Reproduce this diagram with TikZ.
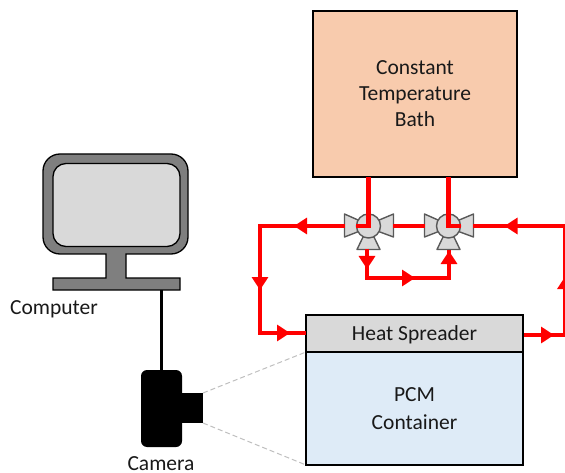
\documentclass[tikz,border=0pt]{standalone}
\usepackage{fontspec}
\setmainfont{Carlito}
\usetikzlibrary{arrows.meta,decorations.markings,calc}
\definecolor{bathfill}{HTML}{F8CBAD}
\definecolor{greyfill}{HTML}{D9D9D9}
\definecolor{pcmfill}{HTML}{DEEBF7}
\definecolor{bodygrey}{HTML}{7F7F7F}
\definecolor{valveline}{HTML}{595959}
\definecolor{viewline}{HTML}{BFBFBF}
\tikzset{
  x=1pt,y=-1pt,
  every node/.style={font=\fontsize{21.5}{26}\selectfont,text=black!90,inner sep=0pt,outer sep=0pt},
  blockbox/.style={draw=black,line width=2.6pt,rectangle,align=center,anchor=center},
  flow/.style={draw=red,line width=4.4pt,line join=miter},
  flowtip/.tip={Triangle[length=13pt 0 0,width=16pt 0 0]},
  flowmarks/.style={postaction={decorate},decoration={markings,#1}},
  valvepart/.style={draw=valveline,fill=greyfill,line width=1.4pt,line join=round},
  valveball/.style={circle,draw=valveline,fill=greyfill,line width=1.4pt,minimum size=24pt},
  viewray/.style={draw=viewline,line width=1pt,dash pattern=on 5pt off 3pt},
  pics/valve/.style={code={
    \path[valvepart] (-24,-12) -- (-24,11) -- (-6,4) -- (-6,-4) -- cycle;
    \path[valvepart] (25,-12) -- (25,11) -- (6,4) -- (6,-4) -- cycle;
    \path[valvepart] (-5,10) -- (5,10) -- (11.5,23.5) -- (-11.5,23.5) -- cycle;
  }}
}
\begin{document}
\begin{tikzpicture}
\useasboundingbox (0,0) rectangle (565,473);
% boxes
\node[blockbox,fill=bathfill,minimum width=204pt,minimum height=166pt] (bath) at (415,94) {Constant\\Temperature\\Bath};
\node[blockbox,fill=pcmfill,minimum width=217pt,minimum height=113pt,font=\fontsize{21.5}{28}\selectfont] (pcm) at (414.5,408.5) {PCM\\Container};
\node[blockbox,fill=greyfill,minimum width=217pt,minimum height=37pt] (spreader) at (414.5,333.5) {};
\node (spreaderlabel) at (414.5,334.5) {Heat Spreader};
% computer
\path[draw=black,fill=bodygrey,line width=1.3pt]
  (106,254) [rounded corners=17pt] -- (43,254) -- (43,154) -- (188,154) -- (188,254) [sharp corners] -- (126,254)
  -- (126,278) -- (180,278) -- (180,290) -- (53,290) -- (53,278) -- (106,278) -- cycle;
\node[draw=black,fill=greyfill,line width=1.3pt,rounded corners=13pt,minimum width=127pt,minimum height=83pt] (screen) at (116.5,205) {};
\coordinate (standfoot) at (161.5,290);
\node[anchor=center] (computerlabel) at (54,309) {Computer};
% camera
\node[fill=black,rounded corners=6pt,minimum width=41pt,minimum height=77pt] (camera) at (161.5,408.5) {};
\node[fill=black,minimum width=21pt,minimum height=30pt] (lens) at (192.5,408) {};
\node[anchor=center] (cameralabel) at (161,463.5) {Camera};
\draw[line width=3pt] (standfoot) -- (camera.north);
\draw[viewray] (lens.north east) -- (pcm.north west);
\draw[viewray] (lens.south east) -- (pcm.south west);
% valves
\coordinate (vl) at (368.5,226);
\coordinate (vr) at (448.5,226);
\pic at (vl) {valve};
\pic at (vr) {valve};
\node[valveball] (valveleft) at (vl) {};
\node[valveball] (valveright) at (vr) {};
\coordinate (vlwest) at (345,226);
\coordinate (vleast) at (393,226);
\coordinate (vrwest) at (425,226);
\coordinate (vreast) at (473,226);
\coordinate (vlsouth) at (367,249);
\coordinate (vrsouth) at (449,250);
% flows
\draw[flow] (bath.south -| vl) -- (vl) -- ++(-12.5,0);
\draw[flow] (bath.south -| vr) -- (vr) -- ++(12.5,0);
\draw[flow] (vleast) -- (vrwest);
\coordinate (spin) at (306,333);
\coordinate (spout) at (524,335);
\coordinate (topright) at (565.5,226);
\draw[flow,flowmarks={mark=at position 51pt with {\arrow{flowtip}},mark=at position 149pt with {\arrow{flowtip}},mark=at position 222pt with {\arrow{flowtip}}}]
  (vlwest) -- (260,226) -- (260,333) -- (spin);
\draw[flow,flowmarks={mark=at position 20pt with {\arrow{flowtip}},mark=at position 77pt with {\arrow{flowtip}},mark=at position 138pt with {\arrow{flowtip}}}]
  (vlsouth) -- (367,278) -- (449,278) -- (vrsouth);
\draw[flow,flowmarks={mark=at position 30pt with {\arrow{flowtip}}}] (spout) -- (565.5,335);
\draw[flow,flowmarks={mark=at position 61pt with {\arrow{flowtip}}}] (topright) -- (vreast);
\draw[flow,flowmarks={mark=at position 59pt with {\arrow{flowtip}}}] (565.5,335) -- (topright);
\end{tikzpicture}
\end{document}
